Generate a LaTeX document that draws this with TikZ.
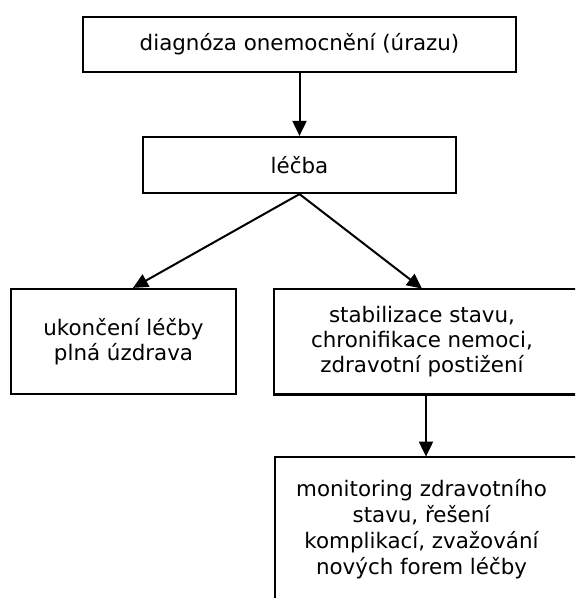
\documentclass[tikz,border=0pt]{standalone}
\usepackage{fontspec}
\setmainfont{DejaVu Sans}
\usetikzlibrary{arrows.meta}

\begin{document}
\begin{tikzpicture}[x=0.5pt,y=-0.5pt,>={Triangle[length=7.5pt,width=7pt]},
  box/.style={draw,line width=1.1pt,inner sep=0pt,align=center,font=\fontsize{10.7}{12.6}\selectfont},
  txt/.style={inner sep=0pt,align=center,font=\fontsize{10.7}{12.6}\selectfont},
  frame/.style={line width=1.1pt},
  link/.style={->,line width=1pt}]
\useasboundingbox (0,0) rectangle (575,598);
\clip (0,0) rectangle (575,598);

\node[box,minimum width=216.5pt,minimum height=27.5pt] (diag) at (299.5,44.5) {diagnóza onemocnění (úrazu)};
\node[box,minimum width=156.5pt,minimum height=28pt] (lecba) at (299.5,165) {léčba};
\node[box,minimum width=112.5pt,minimum height=52.5pt] (uzdr) at (123.5,341.5) {ukončení léčby\\plná úzdrava};

% boxes cut off at the right edge
\node[txt,minimum width=148pt,minimum height=52.5pt] (stab) at (422,341.5) {stabilizace stavu,\\chronifikace nemoci,\\zdravotní postižení};
\draw[frame] ([xshift=10pt]stab.north east) -- (stab.north west) -- (stab.south west) -- ([xshift=10pt]stab.south east);
\node[txt,minimum width=146.5pt,minimum height=72pt,font=\fontsize{10.7}{13}\selectfont] (mon) at (421.5,529) {monitoring zdravotního\\stavu, řešení\\komplikací, zvažování\\nových forem léčby};
\draw[frame] ([xshift=10pt]mon.north east) -- (mon.north west) -- ([yshift=-10pt]mon.south west);

\draw[link] (diag.south) -- (lecba.north);
\draw[link] (lecba.south) -- ([xshift=4.75pt]uzdr.north);
\draw[link] (lecba.south) -- (stab.north);
\draw[link] ([xshift=2pt]stab.south) -- ([xshift=2pt]stab.south |- mon.north);
\end{tikzpicture}
\end{document}
